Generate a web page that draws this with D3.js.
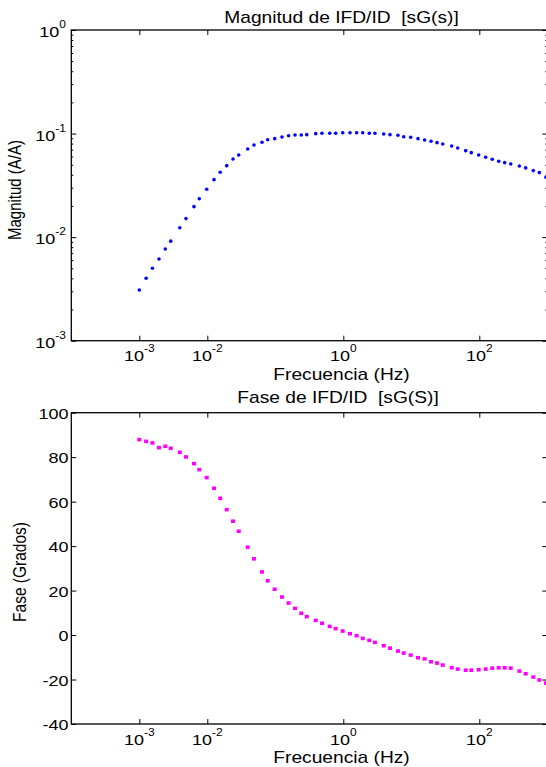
<!DOCTYPE html>
<html><head><meta charset="utf-8">
<script src="https://cdn.jsdelivr.net/npm/d3@7"></script>
<style>
body{margin:0;background:#fff}
svg{display:block}
text{font-family:"Liberation Sans",Arial,Helvetica,sans-serif;fill:#000;white-space:pre}
</style>
</head><body><svg id="c" width="546" height="767"></svg>
<script>
// ---- data ----
const freq=[0.001,0.00126,0.00156,0.00195,0.00241,0.0029,0.00394,0.00486,0.00637,0.00762,
0.0098,0.01255,0.0155,0.0193,0.0239,0.029,0.0393,0.0486,0.0637,0.0773,
0.098,0.1255,0.157,0.195,0.241,0.29,0.393,0.486,0.631,0.773,
0.98,1.255,1.57,1.93,2.41,2.92,3.93,4.86,6.37,7.73,
9.8,12.55,15.7,19.5,23.9,29,39.3,48.1,63.1,76.3,
98,124,155,193,236,290,388,481,622,763,957];
const magnitude=[0.00309,0.00401,0.00501,0.00616,0.00769,0.00915,0.0123,0.0151,0.0197,0.0235,
0.029,0.0359,0.0423,0.049,0.0569,0.0621,0.071,0.0776,0.0824,0.0873,
0.0893,0.0927,0.0954,0.0969,0.0969,0.0976,0.0998,0.1007,0.1007,0.1007,
0.102,0.102,0.102,0.102,0.1007,0.1007,0.0991,0.0976,0.0963,0.0933,
0.0921,0.0893,0.0868,0.0843,0.0817,0.0794,0.0759,0.0726,0.0684,0.0654,
0.0621,0.059,0.0565,0.054,0.0524,0.0509,0.0487,0.0466,0.0439,0.042,0.0379];
const phase=[87.9,87.1,86.4,84.3,84.9,84.0,82.2,80.1,77.1,74.4,
70.8,66.0,61.5,56.4,51.2,46.7,39.5,34.3,28.4,24.4,
20.6,17.1,14.4,12.0,9.8,8.3,6.6,5.3,3.9,2.9,
1.8,0.6,-0.3,-1.5,-2.4,-3.3,-4.8,-5.9,-7.2,-8.1,
-9.0,-10.2,-10.7,-12.0,-12.6,-13.5,-14.7,-15.3,-15.8,-15.8,
-15.6,-15.3,-14.9,-14.7,-14.7,-14.9,-16.2,-17.4,-18.9,-20.2,-21.6];
const freqTickExps=[-3,-2,0,2];
const magTickExps=[-3,-2,-1,0];
const phaseTicks=[-40,-20,0,20,40,60,80,100];
const titleMag="Magnitud de IFD/ID  [sG(s)]";
const titlePhase="Fase de IFD/ID  [sG(S)]";
const xLabel="Frecuencia (Hz)";
const yLabelMag="Magnitud (A/A)";
const yLabelPhase="Fase (Grados)";

// ---- layout ----
const SX=1.2;
const svg=d3.select("#c");
const L=71.3,R=547.3;
const P1={t:30,b:340.7}, P2={t:412.7,b:724};
const x=d3.scaleLog().domain([1e-4,1e3]).range([L,R]);
const yMag=d3.scaleLog().domain([1e-3,1]).range([P1.b,P1.t]);
const yPh=d3.scaleLinear().domain([-40,100]).range([P2.b,P2.t]);

function stext(g,px,py,anchor,size,rot){
  return g.append("text")
    .attr("transform",`translate(${px},${py}) scale(${SX},1)`+(rot?` rotate(${rot})`:""))
    .attr("text-anchor",anchor).attr("font-size",size);
}
function powLabel(g,px,py,anchor,exp){
  const t=stext(g,px,py,anchor,15);
  t.append("tspan").text("10");
  t.append("tspan").attr("dy",-9).attr("font-size",10).text(String(exp));
  return t;
}
function styleAxis(a){
  a.select(".domain").remove();
  a.selectAll(".tick line").attr("stroke","#000").attr("stroke-width",1);
  a.selectAll(".tick text").remove();
}

const defs=svg.append("defs");
defs.append("clipPath").attr("id","cp1").append("rect").attr("x",L).attr("y",P1.t).attr("width",R-L).attr("height",P1.b-P1.t);
defs.append("clipPath").attr("id","cp2").append("rect").attr("x",L).attr("y",P2.t).attr("width",R-L).attr("height",P2.b-P2.t);

function frame(P,yScale,yMajor,yMinor){
  const g=svg.append("g");
  const xt=freqTickExps.map(e=>Math.pow(10,e));
  styleAxis(g.append("g").attr("transform",`translate(0,${P.b})`).call(d3.axisTop(x).tickValues(xt).tickSize(5).tickSizeOuter(0)));
  styleAxis(g.append("g").attr("transform",`translate(0,${P.t})`).call(d3.axisBottom(x).tickValues(xt).tickSize(5).tickSizeOuter(0)));
  styleAxis(g.append("g").attr("transform",`translate(${L},0)`).call(d3.axisRight(yScale).tickValues(yMajor).tickSize(5).tickSizeOuter(0)));
  styleAxis(g.append("g").attr("transform",`translate(${R},0)`).call(d3.axisLeft(yScale).tickValues(yMajor).tickSize(5).tickSizeOuter(0)));
  if(yMinor){
    styleAxis(g.append("g").attr("transform",`translate(${L},0)`).call(d3.axisRight(yScale).tickValues(yMinor).tickSize(2).tickSizeOuter(0)));
    styleAxis(g.append("g").attr("transform",`translate(${R},0)`).call(d3.axisLeft(yScale).tickValues(yMinor).tickSize(2).tickSizeOuter(0)));
  }
  g.append("rect").attr("x",L).attr("y",P.t).attr("width",R-L).attr("height",P.b-P.t)
    .attr("fill","none").attr("stroke","#000").attr("stroke-width",1.3);
  xt.forEach((v,i)=>powLabel(svg,x(v),P.b+20.5,"middle",freqTickExps[i]));
}

// ---- magnitude plot ----
const magMajor=magTickExps.map(e=>Math.pow(10,e));
const magMinor=[];
for(let e=-3;e<0;e++)for(let k=2;k<=9;k++)magMinor.push(k*Math.pow(10,e));
frame(P1,yMag,magMajor,magMinor);
magMajor.forEach((v,i)=>powLabel(svg,66,yMag(v)+7,"end",magTickExps[i]));
svg.append("g").attr("clip-path","url(#cp1)").selectAll("circle").data(freq).join("circle")
  .attr("cx",d=>x(d)).attr("cy",(d,i)=>yMag(magnitude[i])).attr("r",1.8).attr("fill","#0000ff");
stext(svg,341.5,23,"middle",16).text(titleMag);
stext(svg,341.5,380,"middle",16).text(xLabel);
stext(svg,21,190,"middle",15,-90).text(yLabelMag);

// ---- phase plot ----
frame(P2,yPh,phaseTicks,null);
phaseTicks.forEach(v=>stext(svg,68.5,yPh(v)+6,"end",15).text(String(v)));
svg.append("g").attr("clip-path","url(#cp2)").selectAll("rect").data(freq).join("rect")
  .attr("x",d=>x(d)-2).attr("y",(d,i)=>yPh(phase[i])-1.8).attr("width",4).attr("height",3.6).attr("fill","#ff00ff");
stext(svg,338,403,"middle",16).text(titlePhase);
stext(svg,341.5,763,"middle",16).text(xLabel);
stext(svg,26,572,"middle",15.5,-90).text(yLabelPhase);
</script>
</body></html>
